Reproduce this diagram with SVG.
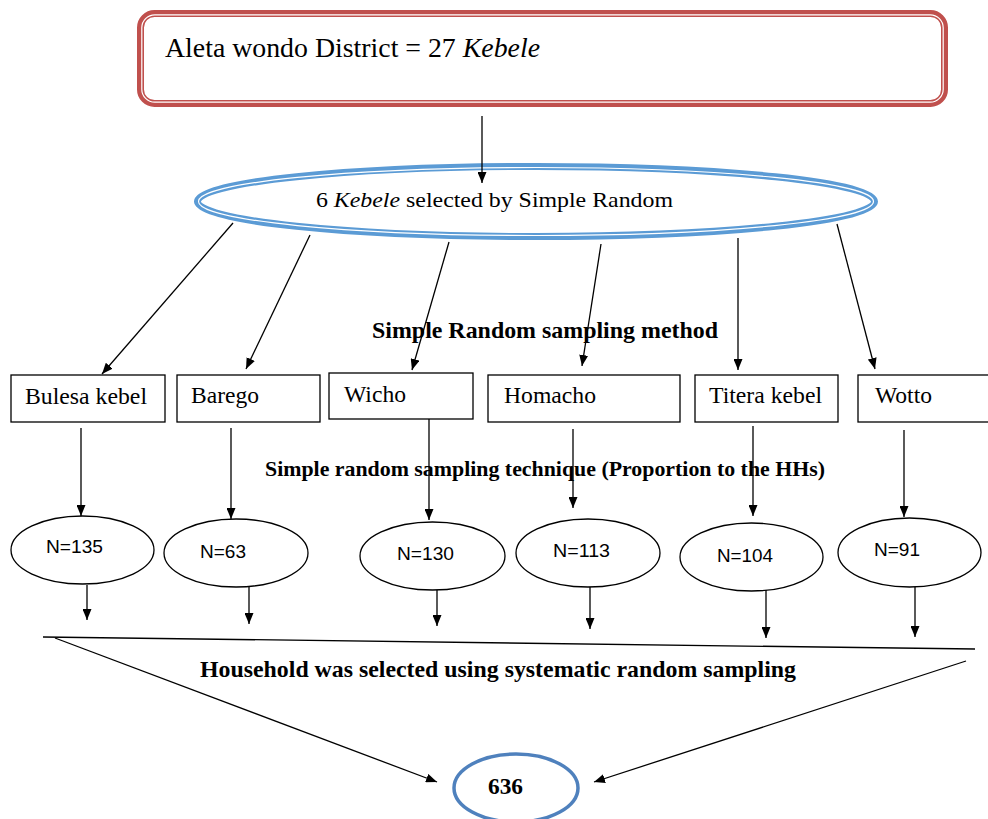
<svg xmlns="http://www.w3.org/2000/svg" width="988" height="819" viewBox="0 0 988 819">
<defs>
<marker id="arr" markerWidth="11" markerHeight="9" refX="11" refY="4.5" orient="auto" markerUnits="userSpaceOnUse">
<path d="M0,0 L11,4.5 L0,9 z" fill="#000"/>
</marker>
<style>
.serif{font-family:"Liberation Serif","Times New Roman",serif;fill:#000}
.b{font-weight:bold}
.sans{font-family:"Liberation Sans",Arial,sans-serif;fill:#000}
.box{fill:#fff;stroke:#000;stroke-width:1.3}
.ell{fill:#fff;stroke:#000;stroke-width:1.3}
.con line{stroke:#000;stroke-width:1.3;fill:none}
.arr{marker-end:url(#arr)}
</style>
</defs>
<rect width="988" height="819" fill="#fff"/>

<g id="district">
<rect x="140.5" y="13.5" width="804" height="90" rx="14" fill="#fff" stroke="#C0504D" stroke-width="7"/>
<rect x="141.8" y="14.8" width="801.4" height="87.4" rx="13" fill="none" stroke="#fff" stroke-width="1.2"/>
<text class="serif" x="165" y="57" font-size="27" textLength="375" lengthAdjust="spacingAndGlyphs">Aleta wondo District = 27 <tspan font-style="italic">Kebele</tspan></text>
</g>

<g id="selected">
<ellipse cx="536" cy="201.5" rx="338.5" ry="35" fill="#fff" stroke="#5B9BD5" stroke-width="7"/>
<ellipse cx="536" cy="201.5" rx="337.5" ry="34" fill="none" stroke="#fff" stroke-width="1.2"/>
<text class="serif" x="316" y="207" font-size="21" textLength="357" lengthAdjust="spacingAndGlyphs">6 <tspan font-style="italic">Kebele</tspan> selected by Simple Random</text>
</g>

<g id="label-method">
<text class="serif b" x="372" y="338" font-size="23" textLength="346" lengthAdjust="spacingAndGlyphs">Simple Random sampling method</text>
</g>

<g id="bulesa">
<rect class="box" x="11" y="375" width="154" height="47"/>
<text class="serif" x="25" y="404" font-size="23" textLength="122" lengthAdjust="spacingAndGlyphs">Bulesa kebel</text>
</g>
<g id="barego">
<rect class="box" x="177" y="375" width="143" height="47"/>
<text class="serif" x="191" y="403" font-size="23" textLength="68" lengthAdjust="spacingAndGlyphs">Barego</text>
</g>
<g id="wicho">
<rect class="box" x="329" y="373" width="144" height="46"/>
<text class="serif" x="344" y="402" font-size="23" textLength="62" lengthAdjust="spacingAndGlyphs">Wicho</text>
</g>
<g id="homacho">
<rect class="box" x="488" y="375" width="192" height="47"/>
<text class="serif" x="504" y="403" font-size="23" textLength="92" lengthAdjust="spacingAndGlyphs">Homacho</text>
</g>
<g id="titera">
<rect class="box" x="695" y="375" width="143" height="47"/>
<text class="serif" x="709" y="403" font-size="23" textLength="113" lengthAdjust="spacingAndGlyphs">Titera kebel</text>
</g>
<g id="wotto">
<rect class="box" x="858" y="375" width="140" height="47"/>
<text class="serif" x="875" y="403" font-size="23" textLength="57" lengthAdjust="spacingAndGlyphs">Wotto</text>
</g>

<g id="label-technique">
<text class="serif b" x="265" y="476" font-size="21" textLength="560" lengthAdjust="spacingAndGlyphs">Simple random sampling technique (Proportion to the HHs)</text>
</g>

<g id="n135">
<ellipse class="ell" cx="82.5" cy="550" rx="71.5" ry="34"/>
<text class="sans" x="46" y="553" font-size="18" textLength="57" lengthAdjust="spacingAndGlyphs">N=135</text>
</g>
<g id="n63">
<ellipse class="ell" cx="236" cy="553" rx="72" ry="34"/>
<text class="sans" x="200" y="558" font-size="18" textLength="46" lengthAdjust="spacingAndGlyphs">N=63</text>
</g>
<g id="n130">
<ellipse class="ell" cx="432.5" cy="556" rx="72.5" ry="34"/>
<text class="sans" x="397" y="560" font-size="18" textLength="57" lengthAdjust="spacingAndGlyphs">N=130</text>
</g>
<g id="n113">
<ellipse class="ell" cx="588" cy="553" rx="72" ry="34"/>
<text class="sans" x="553" y="557" font-size="18" textLength="57" lengthAdjust="spacingAndGlyphs">N=113</text>
</g>
<g id="n104">
<ellipse class="ell" cx="751.5" cy="557" rx="71.5" ry="34"/>
<text class="sans" x="717" y="562" font-size="18" textLength="56" lengthAdjust="spacingAndGlyphs">N=104</text>
</g>
<g id="n91">
<ellipse class="ell" cx="909.5" cy="552.5" rx="71.5" ry="34.5"/>
<text class="sans" x="874" y="556" font-size="18" textLength="46" lengthAdjust="spacingAndGlyphs">N=91</text>
</g>

<g id="label-household">
<text class="serif b" x="200" y="677" font-size="23" textLength="596" lengthAdjust="spacingAndGlyphs">Household was selected using systematic random sampling</text>
</g>

<g id="total">
<ellipse cx="516" cy="788" rx="62" ry="34" fill="#fff" stroke="#4F81BD" stroke-width="3.5"/>
<text class="serif b" x="488" y="794" font-size="24" textLength="35" lengthAdjust="spacingAndGlyphs">636</text>
</g>

<g id="connectors" class="con">
<line class="arr" x1="482" y1="116" x2="482" y2="183"/>
<line class="arr" x1="233" y1="223" x2="102" y2="374"/>
<line class="arr" x1="310" y1="235" x2="246" y2="369"/>
<line class="arr" x1="449" y1="242" x2="412" y2="370"/>
<line class="arr" x1="601" y1="244" x2="582" y2="366"/>
<line class="arr" x1="738" y1="238" x2="738" y2="370"/>
<line class="arr" x1="837" y1="224" x2="875" y2="369"/>
<line class="arr" x1="81" y1="428" x2="81" y2="516"/>
<line class="arr" x1="231" y1="428" x2="231" y2="519"/>
<line class="arr" x1="429" y1="419" x2="429" y2="520"/>
<line class="arr" x1="573" y1="429" x2="573" y2="508"/>
<line class="arr" x1="753" y1="426" x2="753" y2="516"/>
<line class="arr" x1="904" y1="430" x2="904" y2="517"/>
<line class="arr" x1="87" y1="585" x2="87" y2="620"/>
<line class="arr" x1="249" y1="587" x2="249" y2="624"/>
<line class="arr" x1="437" y1="590" x2="437" y2="626"/>
<line class="arr" x1="590" y1="587" x2="590" y2="629"/>
<line class="arr" x1="766" y1="590" x2="766" y2="638"/>
<line class="arr" x1="915" y1="587" x2="915" y2="637"/>
<line x1="43" y1="637" x2="975" y2="649"/>
<line class="arr" x1="55" y1="638" x2="437" y2="782"/>
<line class="arr" x1="966" y1="661" x2="594" y2="782"/>
</g>
</svg>
